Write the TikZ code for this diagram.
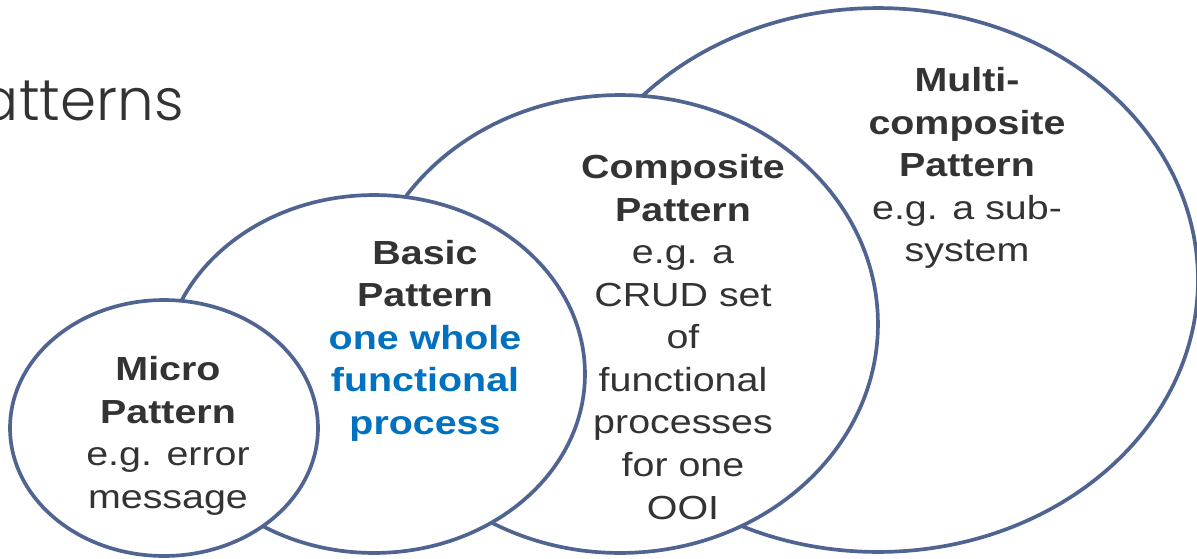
\documentclass[tikz,border=0pt]{standalone}
\usepackage{fontspec}
\setmainfont{Liberation Sans}
\newfontfamily\labelfont[FakeStretch=1.18]{Liberation Sans}
\newfontfamily\titlefont{Poppins Light}
\definecolor{rim}{RGB}{80,100,145}
\definecolor{ink}{RGB}{51,51,51}
\definecolor{accent}{RGB}{0,112,192}
\begin{document}
\begin{tikzpicture}[x=0.02cm,y=-0.02cm,
  bubble/.style={draw=rim,fill=white,line width=2.1pt},
  label/.style={align=center,inner sep=0pt,text=ink,
    font=\labelfont\fontsize{19}{24.2}\selectfont},
  title/.style={inner sep=0pt,text=ink,font=\titlefont\fontsize{33}{40}\selectfont}]
  \useasboundingbox (0,0) rectangle (1197,558);
  \begin{scope}
    \clip (0,0) rectangle (1197,558);
    % page heading, partly off the left edge
    \node[title,anchor=base east] (heading) at (184,120) {Patterns};
    % nested pattern levels, back to front
    \path[bubble] (878,280) ellipse [x radius=6.40cm, y radius=5.44cm];
    \path[bubble] (620,324) ellipse [x radius=5.16cm, y radius=4.58cm];
    \path[bubble] (374,374) ellipse [x radius=4.22cm, y radius=3.58cm];
    \path[bubble] (164,428) ellipse [x radius=3.08cm, y radius=2.56cm];
  \end{scope}
  \node[label] (multi) at (967,168)
    {\textbf{Multi-}\\\textbf{composite}\\\textbf{Pattern}\\e.g. a sub-\\system};
  \node[label] (composite) at (683,337)
    {\textbf{Composite}\\\textbf{Pattern}\\e.g. a\\CRUD set\\of\\functional\\processes\\for one\\OOI};
  \node[label] (basic) at (425,340.5)
    {\textbf{Basic}\\\textbf{Pattern}\\\textcolor{accent}{\textbf{one whole}}\\\textcolor{accent}{\textbf{functional}}\\\textcolor{accent}{\textbf{process}}};
  \node[label] (micro) at (168,436)
    {\textbf{Micro}\\\textbf{Pattern}\\e.g. error\\message};
\end{tikzpicture}
\end{document}
